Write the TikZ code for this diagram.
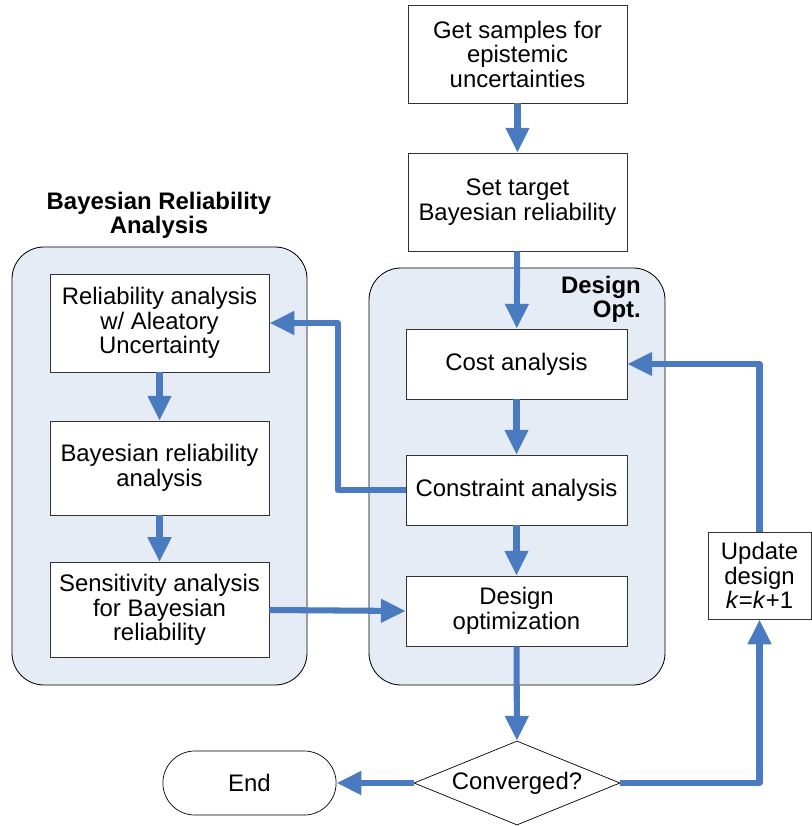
\documentclass[tikz,border=0pt]{standalone}
\usepackage{fontspec}
\setmainfont{Liberation Sans}
\usetikzlibrary{arrows.meta,shapes.geometric}
\definecolor{flowblau}{HTML}{4A7AC0}
\definecolor{grpfill}{HTML}{E6ECF6}
\tikzset{
  proc/.style={draw=black!80,fill=white,line width=0.5pt,align=center,inner sep=0pt,
    minimum width=5.48cm,font=\fontsize{17}{17.4}\selectfont},
  grp/.style={draw=black,fill=grpfill,line width=0.6pt,rounded corners=0.8cm},
  grptitle/.style={font=\fontsize{17}{17}\selectfont\bfseries,inner sep=0pt},
  flow/.style={-{Triangle[length=0.62cm,width=0.56cm]},flowblau,line width=4.3pt,line join=round},
}
\begin{document}
\begin{tikzpicture}[x=0.025cm,y=-0.025cm]
  \useasboundingbox (0,0) rectangle (811,826);
  % ===== groups =====
  \draw[grp] (12,247) rectangle (307,685);
  \draw[grp] (369,268) rectangle (665,685);
  \node[grptitle,align=center] (tbra) at (159,215) {Bayesian Reliability\\Analysis};
  \node[grptitle,align=right,anchor=east] (topt) at (641,299) {Design\\Opt.};
  % ===== top boxes =====
  \node[proc,minimum height=2.45cm] (samp) at (517.5,54) {Get samples for\\epistemic\\uncertainties};
  \node[proc,minimum height=2.45cm] (targ) at (517.5,202) {Set target\\Bayesian reliability};
  % ===== reliability analysis =====
  \node[proc,minimum height=2.45cm] (rel) at (159.5,323) {Reliability analysis\\w/ Aleatory\\Uncertainty};
  \node[proc,minimum height=2.35cm] (brel) at (159.5,468) {Bayesian reliability\\analysis};
  \node[proc,minimum height=2.38cm] (sens) at (159.5,610) {Sensitivity analysis\\for Bayesian\\reliability};
  % ===== design optimization =====
  \node[proc,minimum width=5.52cm,minimum height=1.75cm] (cost) at (516.5,364) {Cost analysis};
  \node[proc,minimum width=5.52cm,minimum height=1.75cm] (cons) at (516.5,490) {Constraint analysis};
  \node[proc,minimum width=5.52cm,minimum height=1.75cm] (dopt) at (516.5,611) {Design\\optimization};
  \node[proc,minimum width=2.58cm,minimum height=2.18cm] (upd) at (759.5,575.5) {Update\\design\\\textit{k}=\textit{k}+1};
  \node[draw=black,line width=0.5pt,diamond,aspect=2.4,inner sep=0pt,minimum width=5.15cm,minimum height=2.1cm,
    font=\fontsize{17}{17.4}\selectfont] (conv) at (517,783) {Converged?};
  \node[draw=black,line width=0.5pt,rounded corners=0.8cm,minimum width=4.33cm,minimum height=1.6cm,
    inner sep=0pt,font=\fontsize{17}{17.4}\selectfont] (end) at (249.5,783) {End};
  % ===== connectors =====
  \draw[flow] (samp) -- (targ);
  \draw[flow] (targ) -- (cost);
  \draw[flow] (cost) -- (cons);
  \draw[flow] (cons) -- (dopt);
  \draw[flow] (dopt) -- (conv);
  \draw[flow] (conv) -- (end);
  \draw[flow] (conv.east) -| (upd.south);
  \draw[flow] (upd.north) |- (cost.east);
  \draw[flow] (cons.west) -- ++(-68,0) |- (rel.east);
  \draw[flow] (rel) -- (brel);
  \draw[flow] (brel) -- (sens);
  \draw[flow] (sens.east) -- (dopt.west);
\end{tikzpicture}
\end{document}
